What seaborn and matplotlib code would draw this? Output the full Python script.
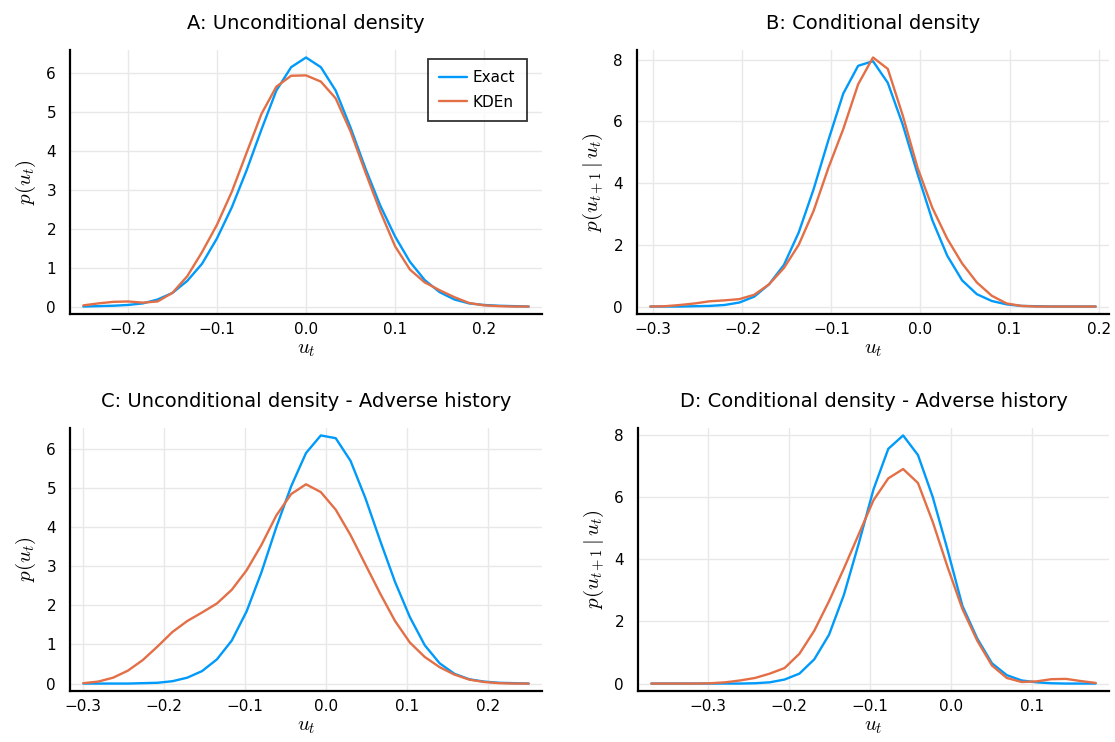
import pandas as pd
import matplotlib
matplotlib.use("Agg")
import matplotlib.pyplot as plt
from matplotlib.ticker import FuncFormatter, FixedLocator
import seaborn as sns

# Panel A: unconditional density
A_U = [-0.25, -0.2333, -0.2167, -0.2, -0.1833, -0.1667, -0.15, -0.1333, -0.1167, -0.1,
       -0.0833, -0.0667, -0.05, -0.0333, -0.0167, 0.0, 0.0167, 0.0333, 0.05, 0.0667,
       0.0833, 0.1, 0.1167, 0.1333, 0.15, 0.1667, 0.1833, 0.2, 0.2167, 0.2333, 0.25]
A_EXACT = [0.0, 0.01, 0.02, 0.04, 0.08, 0.18, 0.35, 0.66, 1.1, 1.75,
           2.55, 3.5, 4.55, 5.55, 6.15, 6.4, 6.15, 5.55, 4.6, 3.55,
           2.6, 1.8, 1.15, 0.68, 0.37, 0.18, 0.08, 0.04, 0.02, 0.01, 0.0]
A_KDEN = [0.03, 0.08, 0.12, 0.13, 0.1, 0.13, 0.35, 0.78, 1.4, 2.1,
          2.95, 3.95, 4.95, 5.65, 5.93, 5.94, 5.78, 5.35, 4.5, 3.45,
          2.45, 1.55, 0.95, 0.62, 0.42, 0.24, 0.09, 0.03, 0.01, 0.0, 0.0]

# Panel B: conditional density
B_U = [-0.3033, -0.2867, -0.27, -0.2533, -0.2367, -0.22, -0.2033, -0.1867, -0.17, -0.1533,
       -0.1367, -0.12, -0.1033, -0.0867, -0.07, -0.0533, -0.0367, -0.02, -0.0033, 0.0133,
       0.03, 0.0467, 0.0633, 0.08, 0.0967, 0.1133, 0.13, 0.1467, 0.1633, 0.18, 0.1967]
B_EXACT = [0.0, 0.0, 0.0, 0.01, 0.02, 0.05, 0.13, 0.32, 0.72, 1.35,
           2.4, 3.8, 5.4, 6.9, 7.8, 7.95, 7.25, 5.9, 4.3, 2.8,
           1.65, 0.85, 0.4, 0.18, 0.07, 0.02, 0.01, 0.0, 0.0, 0.0, 0.0]
B_KDEN = [0.0, 0.01, 0.05, 0.1, 0.17, 0.2, 0.24, 0.38, 0.72, 1.25,
          2.0, 3.1, 4.5, 5.75, 7.2, 8.07, 7.7, 6.2, 4.5, 3.2,
          2.2, 1.4, 0.78, 0.35, 0.1, 0.02, 0.0, 0.0, 0.0, 0.0, 0.0]

# Panel C: unconditional density, adverse history
C_U = [-0.3, -0.2817, -0.2633, -0.245, -0.2267, -0.2083, -0.19, -0.1717, -0.1533, -0.135,
       -0.1167, -0.0983, -0.08, -0.0617, -0.0433, -0.025, -0.0067, 0.0117, 0.03, 0.0483,
       0.0667, 0.085, 0.1033, 0.1217, 0.14, 0.1583, 0.1767, 0.195, 0.2133, 0.2317, 0.25]
C_EXACT = [0.0, 0.0, 0.0, 0.0, 0.01, 0.02, 0.06, 0.15, 0.32, 0.62,
           1.1, 1.85, 2.85, 4.0, 5.05, 5.9, 6.35, 6.28, 5.7, 4.75,
           3.65, 2.6, 1.7, 0.98, 0.52, 0.25, 0.11, 0.05, 0.02, 0.01, 0.0]
C_KDEN = [0.01, 0.05, 0.15, 0.33, 0.6, 0.95, 1.32, 1.6, 1.82, 2.05,
          2.4, 2.9, 3.55, 4.3, 4.85, 5.1, 4.9, 4.45, 3.8, 3.05,
          2.3, 1.6, 1.05, 0.68, 0.42, 0.23, 0.1, 0.04, 0.01, 0.0, 0.0]

# Panel D: conditional density, adverse history
D_U = [-0.37, -0.3517, -0.3335, -0.3152, -0.2969, -0.2787, -0.2604, -0.2421, -0.2238, -0.2056,
       -0.1873, -0.169, -0.1508, -0.1325, -0.1142, -0.0959, -0.0777, -0.0594, -0.0411, -0.0229,
       -0.0046, 0.0137, 0.032, 0.0502, 0.0685, 0.0868, 0.1051, 0.1233, 0.1416, 0.1599, 0.1781]
D_EXACT = [0.0, 0.0, 0.0, 0.0, 0.0, 0.0, 0.0, 0.01, 0.04, 0.13,
           0.32, 0.78, 1.57, 2.85, 4.5, 6.25, 7.55, 7.98, 7.35, 6.0,
           4.3, 2.5, 1.45, 0.65, 0.27, 0.1, 0.04, 0.01, 0.0, 0.0, 0.0]
D_KDEN = [0.0, 0.0, 0.0, 0.0, 0.01, 0.04, 0.1, 0.18, 0.32, 0.5,
          0.96, 1.7, 2.65, 3.7, 4.8, 5.9, 6.6, 6.9, 6.45, 5.2,
          3.75, 2.4, 1.38, 0.58, 0.18, 0.05, 0.07, 0.14, 0.15, 0.08, 0.02]

TITLES = ["A: Unconditional density", "B: Conditional density",
          "C: Unconditional density - Adverse history",
          "D: Conditional density - Adverse history"]
YLABELS = [r"$p(u_t)$", r"$p(u_{t+1}\,|\,u_t)$",
           r"$p(u_t)$", r"$p(u_{t+1}\,|\,u_t)$"]
XTICKS = [[-0.2, -0.1, 0.0, 0.1, 0.2], [-0.3, -0.2, -0.1, 0.0, 0.1, 0.2],
          [-0.3, -0.2, -0.1, 0.0, 0.1, 0.2], [-0.3, -0.2, -0.1, 0.0, 0.1]]
YTICKS = [[0, 1, 2, 3, 4, 5, 6], [0, 2, 4, 6, 8], [0, 1, 2, 3, 4, 5, 6], [0, 2, 4, 6, 8]]

PALETTE = {"Exact": "#009AFA", "KDEn": "#E36F47"}

PANELS = [(A_U, A_EXACT, A_KDEN), (B_U, B_EXACT, B_KDEN),
          (C_U, C_EXACT, C_KDEN), (D_U, D_EXACT, D_KDEN)]

# axes rectangles in pixels: left, top, right, bottom
BOXES = [(70, 50, 542, 314), (637, 50, 1109, 314),
         (70, 428, 542, 691), (638, 428, 1109, 691)]
W, H = 1115, 742


def widen(vals):
    lo, hi = min(vals), max(vals)
    pad = 0.03 * (hi - lo)
    return lo - pad, hi + pad


def xfmt(v, _):
    return f"{v:.1f}".replace("-", "\u2212")


sns.set_theme(style="white")
plt.rcParams["font.family"] = ["DejaVu Sans"]
plt.rcParams["mathtext.fontset"] = "cm"
plt.rcParams["text.color"] = "black"
plt.rcParams["axes.labelcolor"] = "black"

fig = plt.figure(figsize=(W / 100, H / 100), dpi=100)

for i, (u, exact, kden) in enumerate(PANELS):
    l, t, r, b = BOXES[i]
    ax = fig.add_axes([l / W, 1 - b / H, (r - l) / W, (b - t) / H])
    df = pd.DataFrame({
        "u": list(u) + list(u),
        "p": list(exact) + list(kden),
        "Series": ["Exact"] * len(u) + ["KDEn"] * len(u),
    })
    sns.lineplot(data=df, x="u", y="p", hue="Series", palette=PALETTE,
                 hue_order=["Exact", "KDEn"], linewidth=1.7, ax=ax,
                 legend=(i == 0), sort=False)
    ax.set_xlim(*widen(u))
    ax.set_ylim(*widen(list(exact) + list(kden)))
    ax.xaxis.set_major_locator(FixedLocator(XTICKS[i]))
    ax.yaxis.set_major_locator(FixedLocator(YTICKS[i]))
    ax.xaxis.set_major_formatter(FuncFormatter(xfmt))
    ax.yaxis.set_major_formatter(FuncFormatter(lambda v, _: f"{v:.0f}"))
    ax.grid(True, color="#e8e8e8", linewidth=1.0)
    for side in ("top", "right"):
        ax.spines[side].set_visible(False)
    for side in ("left", "bottom"):
        ax.spines[side].set_color("black")
        ax.spines[side].set_linewidth(1.6)
    ax.tick_params(axis="both", direction="in", length=4, width=1,
                   color="black", labelsize=11, labelcolor="black")
    ax.tick_params(axis="x", pad=6)
    ax.tick_params(axis="y", pad=10)
    ax.set_xlabel(r"$u_t$", fontsize=15, labelpad=1)
    ax.set_ylabel(YLABELS[i], fontsize=15, labelpad=6)
    ax.set_title(TITLES[i], fontsize=14, pad=15, color="black")
    if i == 0:
        leg = ax.legend(loc="upper right", bbox_to_anchor=(0.968, 0.966),
                        borderaxespad=0, fontsize=11, frameon=True,
                        fancybox=False, handlelength=1.8, handletextpad=0.4,
                        borderpad=0.75, labelspacing=0.6)
        leg.get_frame().set_edgecolor("black")
        leg.get_frame().set_linewidth(1.3)
        leg.set_title(None)

fig.savefig("out.png", dpi=100)
